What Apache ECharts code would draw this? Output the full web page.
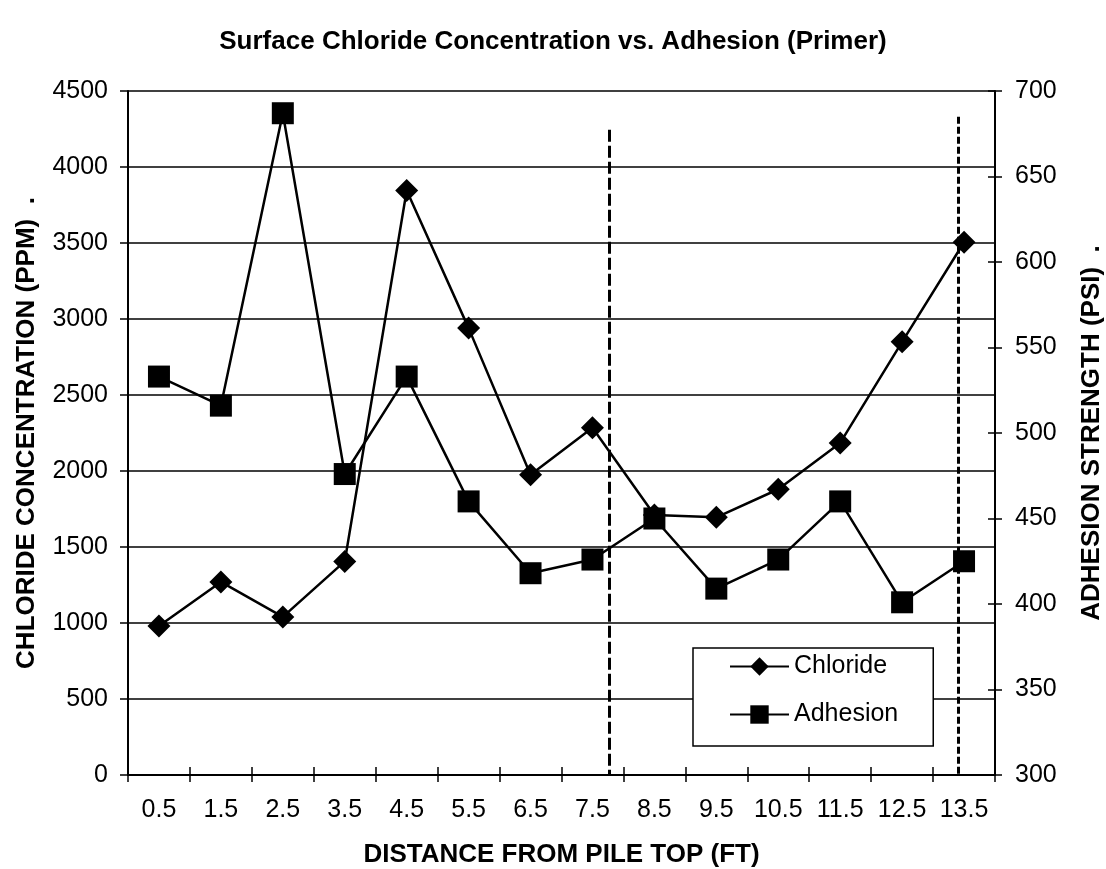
<!DOCTYPE html>
<html>
<head>
<meta charset="utf-8">
<script src="https://cdn.jsdelivr.net/npm/echarts@6/dist/echarts.min.js"></script>
<style>
    html, body { margin: 0; padding: 0; background: #fff; }
    #chart { width: 1106px; height: 869px; }
</style>
</head>
<body>
<div id="chart"></div>
<script>
"use strict";
const distances = ["0.5", "1.5", "2.5", "3.5", "4.5", "5.5", "6.5", "7.5", "8.5", "9.5", "10.5", "11.5", "12.5", "13.5"];
const chloride = [980, 1270, 1040, 1405, 3845, 2940, 1975, 2285, 1710, 1695, 1880, 2185, 2850, 3505];
const adhesion = [533, 516, 687, 476, 533, 460, 418, 426, 450, 409, 426, 460, 401, 425];
const leftTicks = { min: 0, max: 4500, interval: 500 };
const rightTicks = { min: 300, max: 700, interval: 50 };
// dashed markers, in feet along the pile and chloride units for their top end
const dividerFt = [7.77, 13.4];
const dividerTop = [4245, 4330];

const font = "'Liberation Sans', Arial, sans-serif";
const plain = (v) => String(v);
const chart = echarts.init(document.getElementById("chart"), null, { renderer: "canvas" });
chart.setOption({
    animation: false,
    backgroundColor: "#fff",
    textStyle: { fontFamily: font, color: "#000" },
    title: {
        text: "Surface Chloride Concentration vs. Adhesion (Primer)",
        left: "center",
        top: 24,
        textStyle: { fontFamily: font, fontSize: 26, fontWeight: "bold", color: "#000" },
    },
    legend: {
        orient: "vertical",
        left: 693,
        top: 648,
        padding: [6, 35, 19, 36],
        itemGap: 23,
        itemWidth: 59,
        itemHeight: 23,
        backgroundColor: "#fff",
        borderColor: "#000",
        borderWidth: 1.5,
        borderRadius: 0,
        textStyle: { fontFamily: font, fontSize: 25, color: "#000" },
        data: ["Chloride", "Adhesion"],
    },
    grid: { left: 128, right: 111, top: 91, bottom: 94, containLabel: false, outerBoundsMode: "none" },
    xAxis: [
        {
            type: "category",
            position: "bottom",
            data: distances,
            boundaryGap: true,
            name: "DISTANCE FROM PILE TOP (FT)",
            nameLocation: "middle",
            nameGap: 67,
            nameTextStyle: { fontFamily: font, fontSize: 26, fontWeight: "bold", color: "#000" },
            axisLine: { lineStyle: { color: "#000", width: 2 } },
            axisTick: { show: true, alignWithLabel: false, length: 7, lineStyle: { color: "#000", width: 1.5 } },
            axisLabel: { interval: 0, margin: 23, fontFamily: font, fontSize: 25, color: "#000" },
            splitLine: { show: false },
        },
        {
            type: "value",
            position: "bottom",
            min: 0,
            max: 14,
            interval: 1,
            axisLine: { show: false },
            axisTick: { show: true, inside: true, length: 8, lineStyle: { color: "#000", width: 1.5 } },
            axisLabel: { show: false },
            splitLine: { show: false },
        },
    ],
    yAxis: [
        {
            type: "value",
            position: "left",
            min: leftTicks.min,
            max: leftTicks.max,
            interval: leftTicks.interval,
            name: "CHLORIDE CONCENTRATION (PPM)  .",
            nameLocation: "middle",
            nameRotate: 90,
            nameGap: 88,
            nameTextStyle: { fontFamily: font, fontSize: 26, fontWeight: "bold", color: "#000" },
            axisLine: { show: true, lineStyle: { color: "#000", width: 2 } },
            axisTick: { show: true, length: 8, lineStyle: { color: "#000", width: 1.5 } },
            axisLabel: { margin: 20, fontFamily: font, fontSize: 25, color: "#000", formatter: plain },
            splitLine: { show: true, lineStyle: { color: "#000", width: 1.5 } },
        },
        {
            type: "value",
            position: "right",
            min: rightTicks.min,
            max: rightTicks.max,
            interval: rightTicks.interval,
            name: "ADHESION STRENGTH (PSI)  .",
            nameLocation: "middle",
            nameRotate: 90,
            nameGap: 84,
            nameTextStyle: { fontFamily: font, fontSize: 26, fontWeight: "bold", color: "#000" },
            axisLine: { show: true, lineStyle: { color: "#000", width: 2 } },
            axisTick: { show: true, length: 7, lineStyle: { color: "#000", width: 1.5 } },
            axisLabel: { margin: 20, fontFamily: font, fontSize: 25, color: "#000", formatter: plain },
            splitLine: { show: false },
        },
        {
            type: "value",
            position: "right",
            min: rightTicks.min,
            max: rightTicks.max,
            interval: rightTicks.interval,
            axisLine: { show: false },
            axisTick: { show: true, inside: true, length: 7, lineStyle: { color: "#000", width: 1.5 } },
            axisLabel: { show: false },
            splitLine: { show: false },
        },
    ],
    series: [
        {
            name: "dividers",
            type: "line",
            xAxisIndex: 1,
            yAxisIndex: 0,
            data: [],
            markLine: {
                silent: true,
                symbol: "none",
                label: { show: false },
                data: dividerFt.map((ft, i) => [
                    {
                        coord: [ft, dividerTop[i]],
                        lineStyle: { type: i === 0 ? [12, 4] : [7, 3], width: 3, color: "#000" },
                    },
                    { coord: [ft, leftTicks.min] },
                ]),
            },
        },
        {
            name: "Chloride",
            type: "line",
            xAxisIndex: 0,
            yAxisIndex: 0,
            data: chloride,
            symbol: "diamond",
            symbolSize: 23,
            itemStyle: { color: "#000" },
            lineStyle: { color: "#000", width: 2.5 },
        },
        {
            name: "Adhesion",
            type: "line",
            xAxisIndex: 0,
            yAxisIndex: 1,
            data: adhesion,
            symbol: "rect",
            symbolSize: 22,
            itemStyle: { color: "#000" },
            lineStyle: { color: "#000", width: 2.5 },
        },
    ],
});
</script>
</body>
</html>
